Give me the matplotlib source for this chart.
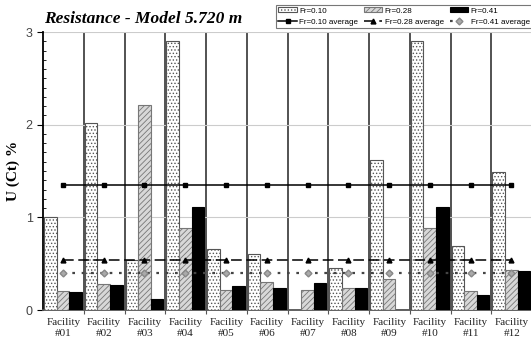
import numpy as np
import matplotlib.pyplot as plt
from matplotlib.ticker import MultipleLocator

plt.rcParams['hatch.linewidth'] = 0.6

facilities = ['#01', '#02', '#03', '#04', '#05', '#06',
              '#07', '#08', '#09', '#10', '#11', '#12']
# U(Ct) % per facility; None = no result reported
fr010 = [1.00, 2.02, 0.54, 2.90, 0.66, 0.60, None, 0.45, 1.62, 2.90, 0.69, 1.49]
fr028 = [0.20, 0.28, 2.21, 0.89, 0.22, 0.30, 0.22, 0.24, 0.34, 0.89, 0.20, 0.43]
fr041 = [0.19, 0.27, 0.12, 1.11, 0.26, 0.24, 0.29, 0.24, None, 1.11, 0.16, 0.42]

series = [
    ('Fr=0.10', fr010),
    ('Fr=0.28', fr028),
    ('Fr=0.41', fr041),
]


def as_arr(vals):
    return np.array([np.nan if v is None else v for v in vals], dtype=float)


fig = plt.figure(figsize=(5.31, 3.39), dpi=100)
ax = fig.add_axes([0.081, 0.0855, 0.921, 0.82])

x = np.arange(len(facilities))
w = 0.31
offs = [0.18, 0.49, 0.80]
bar_style = [
    dict(color='white', edgecolor='#555555', hatch='.....', linewidth=0.8),
    dict(color='#d8d8d8', edgecolor='#777777', hatch='//////', linewidth=0.8),
    dict(color='black', edgecolor='black', linewidth=0.8),
]
line_style = [
    dict(color='black', linestyle='-', marker='s', markersize=3, linewidth=1.1),
    dict(color='black', linestyle=(0, (7, 3)), marker='^', markersize=3.5, linewidth=1.1),
    dict(color='#444444', linestyle=(0, (1.2, 3)), marker='D', markersize=3.5,
         markerfacecolor='#aaaaaa', markeredgecolor='#888888', linewidth=1.6),
]

handles = []
for (name, vals), off, bs, ls in zip(series, offs, bar_style, line_style):
    v = as_arr(vals)
    b = ax.bar(x + off, np.nan_to_num(v), w, label=name, zorder=3, **bs)
    avg = np.nanmean(v)
    ln, = ax.plot(x + 0.49, np.full(len(x), avg), label=name + ' average',
                  zorder=4, **ls)
    handles += [b, ln]

ax.set_xlim(0, len(facilities))
ax.set_ylim(0, 3)
ax.set_xticks(np.arange(1, len(facilities) + 1))
ax.set_xticklabels([])
ax.set_xticks(x + 0.5, minor=True)
ax.set_xticklabels(['Facility\n' + f for f in facilities], minor=True,
                   family='Liberation Serif', fontsize=8, color='#222222',
                   linespacing=1.3)
ax.tick_params(axis='x', which='minor', length=0, pad=6)
ax.tick_params(axis='x', which='major', length=3, color='#555555')
ax.xaxis.grid(True, which='major', color='#444444', linewidth=1.3, zorder=1)

ax.yaxis.set_major_locator(MultipleLocator(1))
ax.yaxis.set_minor_locator(MultipleLocator(0.1))
ax.tick_params(axis='y', which='major', length=4, direction='out',
               labelsize=9, labelcolor='#444444')
ax.tick_params(axis='y', which='minor', length=2, direction='in')
for t in ax.get_yticklabels():
    t.set_family('Liberation Sans')
ax.yaxis.grid(True, which='major', color='#cccccc', linewidth=0.8, zorder=0)

for s in ['top', 'right']:
    ax.spines[s].set_visible(False)
ax.spines['left'].set_linewidth(1.3)
ax.spines['bottom'].set_color('#555555')
ax.spines['bottom'].set_linewidth(1.3)

ax.set_ylabel('U (Ct) %', family='Liberation Serif', fontweight='bold',
              fontsize=11, labelpad=4)
fig.text(0.083, 0.945, 'Resistance - Model 5.720 m', family='Liberation Serif',
         fontweight='bold', fontstyle='italic', fontsize=12.5, va='center')

leg = fig.legend(handles=handles, ncol=3, loc='upper right',
                 bbox_to_anchor=(1.005, 0.99), frameon=True, fancybox=False,
                 edgecolor='#555555', prop={'family': 'Liberation Sans', 'size': 5.8},
                 handlelength=2.3, handleheight=0.5, handletextpad=0.3,
                 columnspacing=0.7, labelspacing=0.5, borderpad=0.3,
                 borderaxespad=0.2)
leg.get_frame().set_linewidth(0.8)

fig.savefig('out.png', dpi=100)
